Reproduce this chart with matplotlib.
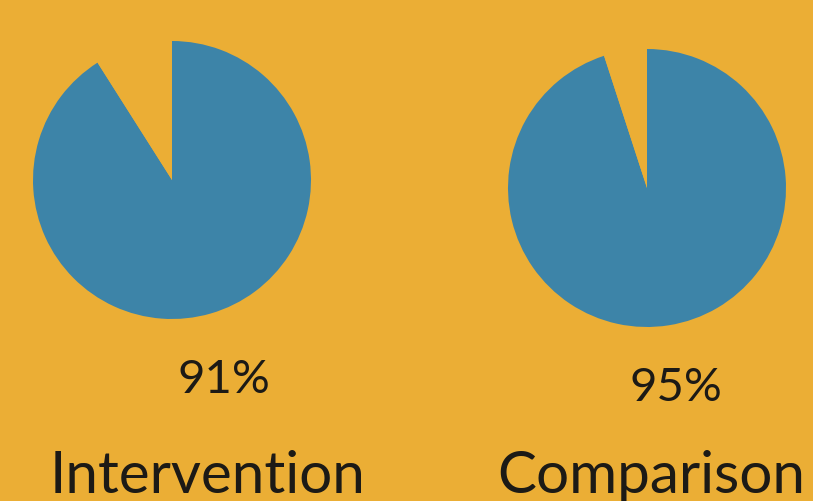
import matplotlib
matplotlib.use('Agg')
import matplotlib.pyplot as plt

groups = ['Intervention', 'Comparison']
percents = [91, 95]
pct_labels = ['91%', '95%']

BG = '#ebae35'
BLUE = '#3d84a8'
TEXT = '#1c1a16'

W, H = 813, 501

fig = plt.figure(figsize=(W / 100, H / 100), dpi=100)
fig.patch.set_facecolor(BG)
ax = fig.add_axes([0, 0, 1, 1])
ax.set_facecolor(BG)

# pixel layout
centers = [(172, 180), (647, 188)]
radius = 139
pct_pos = [(224, 393), (676, 401)]
name_pos = [(50, 493), (497, 493)]

for i, p in enumerate(percents):
    cx, cy = centers[i]
    ax.pie([p, 100 - p], colors=[BLUE, BG], startangle=90, counterclock=False,
           center=(cx, H - cy), radius=radius, wedgeprops={'linewidth': 0})
    px, py = pct_pos[i]
    ax.text(px, H - py, pct_labels[i], ha='center', va='baseline',
            fontsize=34, color=TEXT, family='Lato')
    nx, ny = name_pos[i]
    ax.text(nx, H - ny, groups[i], ha='left', va='baseline',
            fontsize=42, color=TEXT, family='Lato')

ax.set_xlim(0, W)
ax.set_ylim(0, H)
ax.set_aspect('equal')
ax.axis('off')

fig.savefig('out.png', dpi=100, facecolor=BG)
